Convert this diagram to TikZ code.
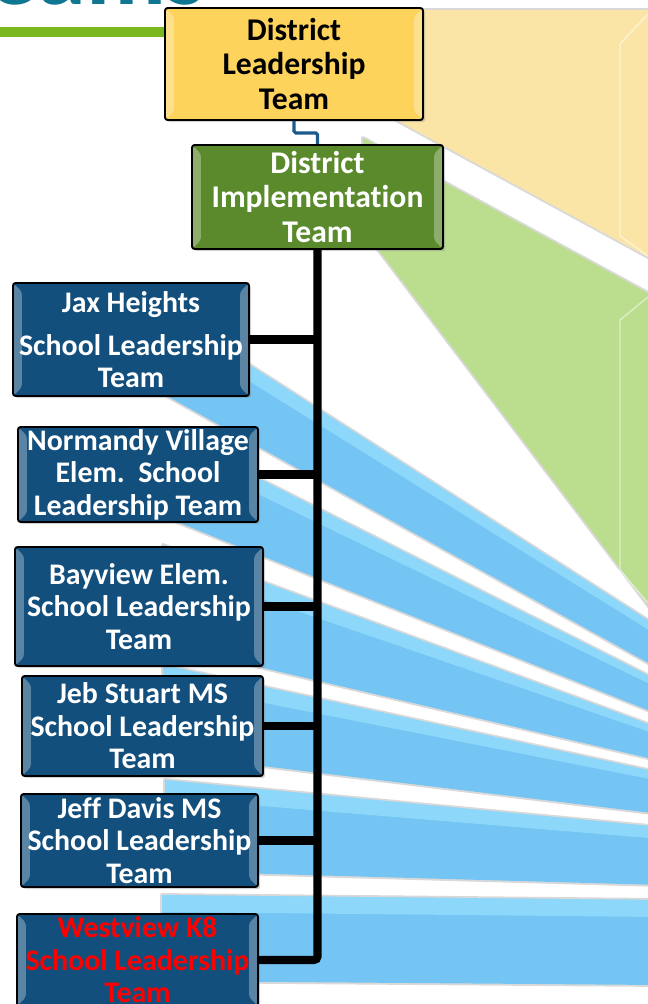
\documentclass[tikz,border=0pt]{standalone}
\usepackage{fontspec}
\setmainfont{Carlito}[Ligatures=NoCommon]
\usetikzlibrary{shadows}

\definecolor{gold}{RGB}{253,211,92}
\definecolor{leaf}{RGB}{91,138,44}
\definecolor{navy}{RGB}{19,79,125}
\definecolor{sky}{RGB}{116,196,244}
\definecolor{skylight}{RGB}{160,232,255}
\definecolor{palegold}{RGB}{251,229,166}
\definecolor{paleleaf}{RGB}{187,221,142}
\definecolor{titleteal}{RGB}{16,118,146}
\definecolor{rulegreen}{RGB}{122,184,30}
\definecolor{linkblue}{RGB}{28,90,140}

\begin{document}
\begin{tikzpicture}[x=0.02cm,y=-0.02cm,
    box/.style={draw=black,line width=1.1pt,rounded corners=1.5pt,align=center,inner sep=0pt,
      drop shadow={shadow xshift=1.2pt,shadow yshift=-1.2pt,opacity=.35},
      path picture={
        \fill[white,opacity=.3] (path picture bounding box.north west) -- ++(5pt,-5pt)
          -- ([shift={(5pt,5pt)}]path picture bounding box.south west) -- (path picture bounding box.south west) -- cycle;
        \fill[white,opacity=.3] (path picture bounding box.north east) -- ++(-5pt,-5pt)
          -- ([shift={(-5pt,5pt)}]path picture bounding box.south east) -- (path picture bounding box.south east) -- cycle;}},
    district/.style={box,font=\fontsize{18}{19.8}\selectfont\bfseries},
    school/.style={box,fill=navy,text=white,font=\fontsize{17}{18.5}\selectfont\bfseries},
    beam/.style={preaction={draw=black!15,line width=2.2pt,line join=round}},
    gleam/.style={skylight,opacity=.55},
    bevelline/.style={white,opacity=.5,line width=.8pt},
    trunk/.style={line width=4.6pt}]
    \useasboundingbox (0,0) rectangle (648,1004);
    \clip (0,0) rectangle (648,1004);

    % heading and rule
    \node[anchor=base east,inner sep=0pt,text=titleteal,font=\fontsize{56}{60}\selectfont\bfseries] (title) at (206,5) {Teams};
    \coordinate (rule) at (0,32);

    % callout beams going off to the right
    \fill[beam,palegold] (380,10) -- (660,10) -- (660,263.5) -- (400,122) -- (380,111) -- cycle;
    \draw[bevelline] (648,14) -- (620,44) -- (620,236) -- (648,256);
    \fill[beam,paleleaf] (363,138) -- (660,299.5) -- (660,621) -- (377,248) -- (363,230) -- cycle;
    \draw[bevelline] (648,297) -- (620,320) -- (620,570) -- (648,603);

    \fill[beam,sky] (167,312) -- (660,628) -- (660,669.5) -- (167,396) -- cycle;
    \fill[gleam] (167,312) -- (660,628) -- (660,637) -- (167,330) -- cycle;
    \fill[beam,sky] (167,432) -- (660,681.5) -- (660,715) -- (167,518) -- cycle;
    \fill[gleam] (167,432) -- (660,681.5) -- (660,689) -- (167,450) -- cycle;
    \fill[beam,sky] (163,545) -- (660,728.4) -- (660,760.8) -- (163,644.5) -- cycle;
    \fill[gleam] (163,545) -- (660,728.4) -- (660,735.5) -- (163,565) -- cycle;
    \fill[beam,sky] (163,665) -- (660,772.6) -- (660,814) -- (163,754) -- cycle;
    \fill[gleam] (163,665) -- (660,772.6) -- (660,781) -- (163,683) -- cycle;
    \fill[beam,sky] (165,780) -- (660,827) -- (660,885) -- (165,871) -- cycle;
    \fill[gleam] (165,780) -- (660,827) -- (660,839) -- (165,798) -- cycle;
    \fill[beam,sky] (162,895) -- (660,900) -- (660,985) -- (162,981) -- cycle;
    \fill[gleam] (162,895) -- (660,900) -- (660,917) -- (162,912) -- cycle;

    % teams
    \node[district,fill=gold,minimum width=5.16cm,minimum height=2.24cm] (dlt) at (294,64) {District\\Leadership\\Team};
    \node[district,fill=leaf,text=white,minimum width=5.02cm,minimum height=2.08cm] (dit) at (317.5,197) {District\\Implementation\\Team};

    \node[school,minimum width=4.72cm,minimum height=2.26cm] (jax) at (131,339.5) {Jax Heights\\[6pt]School Leadership\\Team};
    \node[school,minimum width=4.8cm,minimum height=1.9cm] (norm) at (138,474.5) {Normandy Village\\Elem.\ \ School\\Leadership Team};
    \node[school,minimum width=4.96cm,minimum height=2.38cm] (bay) at (139,606.5) {Bayview Elem.\\School Leadership\\Team};
    \node[school,minimum width=4.82cm,minimum height=2cm] (jeb) at (142.5,726) {Jeb Stuart MS\\School Leadership\\Team};
    \node[school,minimum width=4.74cm,minimum height=1.86cm] (jeff) at (139.5,840.5) {Jeff Davis MS\\School Leadership\\Team};
    \node[school,text=red,minimum width=4.82cm,minimum height=1.84cm] (west) at (137.5,960) {Westview K8\\School Leadership\\Team};

    % links
    \draw[rulegreen,line width=5.6pt] (rule) -- (rule -| dlt.west);
    \draw[linkblue,line width=1.8pt,rounded corners=1pt] (dlt.south) -- ++(0,12) -| (dit.north);
    \draw[trunk,rounded corners=2pt] (dit.south) -- (dit.south |- west.east) -- (west.east);
    \draw[trunk] (jax.east) -- (jax.east -| dit.south);
    \draw[trunk] (norm.east) -- (norm.east -| dit.south);
    \draw[trunk] (bay.east) -- (bay.east -| dit.south);
    \draw[trunk] (jeb.east) -- (jeb.east -| dit.south);
    \draw[trunk] (jeff.east) -- (jeff.east -| dit.south);
\end{tikzpicture}
\end{document}
